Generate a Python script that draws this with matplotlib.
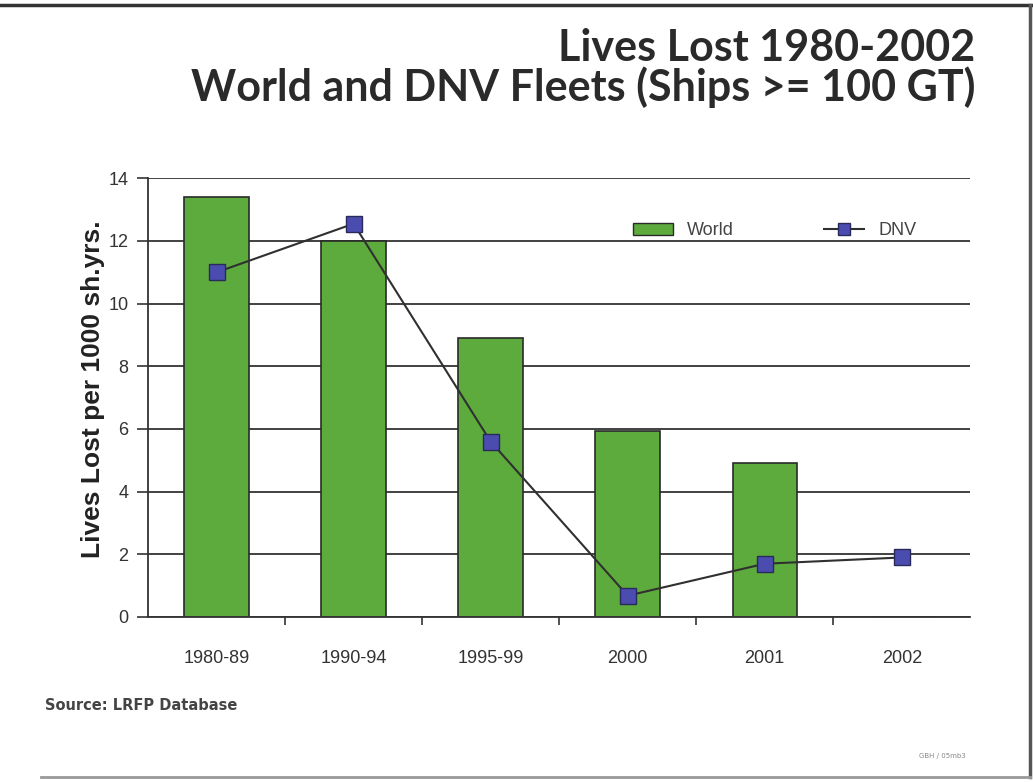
import numpy as np
import matplotlib.pyplot as plt
from matplotlib.lines import Line2D
from matplotlib.patches import Patch

# data
periods = ["1980-89", "1990-94", "1995-99", "2000", "2001", "2002"]
world = [13.4, 12.0, 8.9, 5.95, 4.9, 0.0]
dnv = [11.0, 12.55, 5.6, 0.68, 1.7, 1.9]

NARROW = "Liberation Sans"

fig = plt.figure(figsize=(10.33, 7.82), dpi=100)
ax = fig.add_axes([0.1433, 0.211, 0.796, 0.561])

x = np.arange(len(periods))
ax.bar(x, world, width=0.47, color="#5cab3c", edgecolor="#2a2a2a", linewidth=1.2, zorder=2)
ax.plot(x, dnv, color="#303030", linewidth=1.5, marker="s", markersize=11,
        markerfacecolor="#4a4cb0", markeredgecolor="#2a2a5a", zorder=3)

ax.set_xlim(-0.5, len(periods) - 0.5)
ax.set_ylim(0, 14)
ax.set_yticks(range(0, 15, 2))
ax.yaxis.grid(True, color="#333333", linewidth=1.3, zorder=0)
ax.set_axisbelow(True)

# category labels without marks, small marks between categories
ax.set_xticks(x)
ax.set_xticklabels(periods, fontsize=13, color="#333333", family=NARROW)
ax.tick_params(axis="x", length=0, pad=24)
ax.set_xticks(x[:-1] + 0.5, minor=True)
ax.tick_params(axis="x", which="minor", length=6, width=1.2, color="#333333", direction="out")
ax.tick_params(axis="y", length=8, width=1.2, color="#333333", labelsize=13,
               labelcolor="#333333", pad=6)
for lab in ax.get_yticklabels():
    lab.set_family(NARROW)

for s in ["top", "right"]:
    ax.spines[s].set_visible(False)
for s in ["left", "bottom"]:
    ax.spines[s].set_linewidth(1.3)
    ax.spines[s].set_color("#333333")

ax.set_ylabel("Lives Lost per 1000 sh.yrs.", fontsize=19, fontweight="bold",
              family=NARROW, color="#222222")
ax.yaxis.set_label_coords(-0.052, 0.52)

handles = [Patch(facecolor="#5cab3c", edgecolor="#2a2a2a"),
           Line2D([0], [0], color="#303030", marker="s", markersize=9,
                  markerfacecolor="#4a4cb0", markeredgecolor="#2a2a5a")]
leg = ax.legend(handles, ["World", "DNV"], ncol=2, frameon=False,
                loc="center left", bbox_to_anchor=(0.57, 0.88),
                prop={"family": NARROW, "size": 13},
                columnspacing=5.0, handlelength=2.2, handleheight=0.6)
for t in leg.get_texts():
    t.set_color("#444444")

fig.text(0.944, 0.938, "Lives Lost 1980-2002", ha="right", va="center",
         fontsize=31, fontweight="bold", family="Lato", color="#2a2a2a")
fig.text(0.944, 0.889, "World and DNV Fleets (Ships >= 100 GT)", ha="right", va="center",
         fontsize=31, fontweight="bold", family="Lato", color="#2a2a2a")

fig.text(0.044, 0.098, "Source: LRFP Database", ha="left", va="center",
         fontsize=10.5, fontweight="bold", color="#444444")
fig.text(0.935, 0.033, "GBH / 05mb3", ha="right", va="center",
         fontsize=5, color="#888888")

# frame round the slide
fig.add_artist(Line2D([0.0, 1.0], [0.993, 0.993], color="#333333", linewidth=2.5))
fig.add_artist(Line2D([0.997, 0.997], [0.006, 0.993], color="#555555", linewidth=2.5))
fig.add_artist(Line2D([0.04, 0.997], [0.006, 0.006], color="#999999", linewidth=2))

fig.savefig("out.png", dpi=100)
